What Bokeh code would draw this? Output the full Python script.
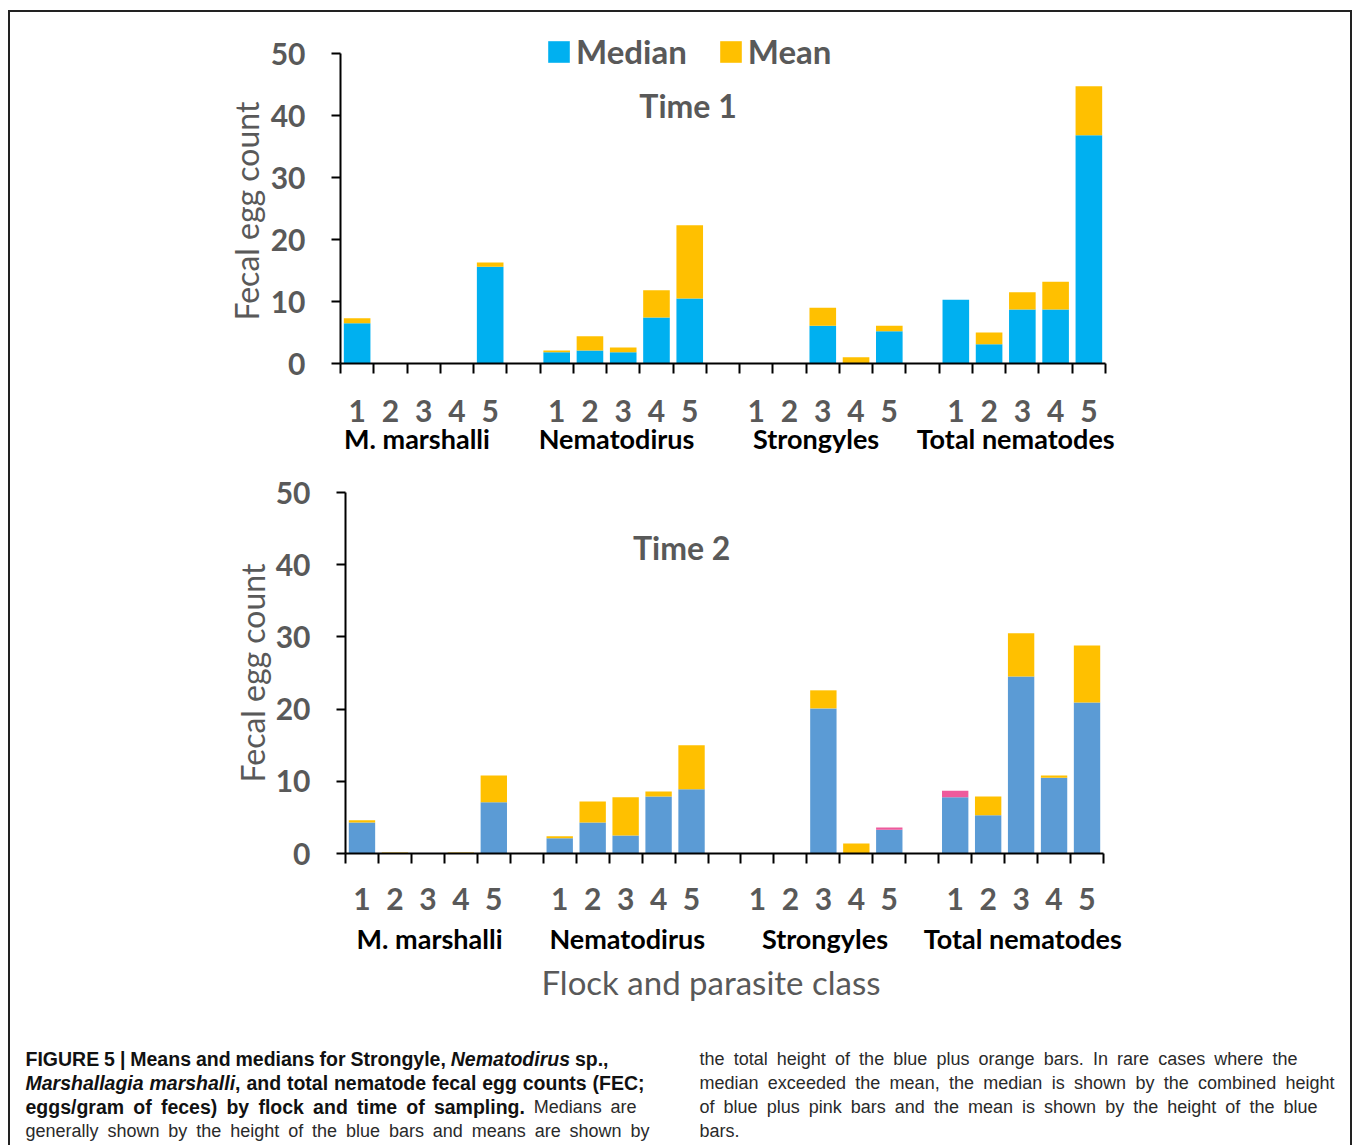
import numpy as np
from bokeh.plotting import figure
from bokeh.models import (Range1d, LinearAxis, FixedTicker, Legend, LegendItem,
                          Label, Title, ColumnDataSource)
from bokeh.layouts import column
from bokeh.embed import file_html
from bokeh.resources import INLINE
from bokeh.core.properties import value

# ---------------- data ----------------
groups = ["M. marshalli", "Nematodirus", "Strongyles", "Total nematodes"]
flocks = ["1", "2", "3", "4", "5"]
y_ticks = [0, 10, 20, 30, 40, 50]

# Time 1 (flocks 1-5 for each parasite class)
t1_median_mm = [6.5, 0.0, 0.0, 0.0, 15.6]
t1_mean_mm = [7.3, 0.0, 0.0, 0.0, 16.3]
t1_median_nem = [1.8, 2.1, 1.8, 7.4, 10.5]
t1_mean_nem = [2.1, 4.4, 2.6, 11.8, 22.3]
t1_median_str = [0.0, 0.0, 6.1, 0.0, 5.2]
t1_mean_str = [0.0, 0.0, 9.0, 1.0, 6.1]
t1_median_tot = [10.3, 3.1, 8.7, 8.7, 36.8]
t1_mean_tot = [10.3, 5.0, 11.5, 13.2, 44.7]

# Time 2
t2_median_mm = [4.3, 0.0, 0.0, 0.0, 7.1]
t2_mean_mm = [4.6, 0.15, 0.0, 0.15, 10.8]
t2_median_nem = [2.1, 4.3, 2.5, 7.9, 8.9]
t2_mean_nem = [2.4, 7.2, 7.8, 8.6, 15.0]
t2_median_str = [0.0, 0.0, 20.1, 0.0, 3.6]
t2_mean_str = [0.0, 0.0, 22.6, 1.4, 3.3]
t2_median_tot = [8.7, 5.3, 24.5, 10.5, 20.9]
t2_mean_tot = [7.8, 7.9, 30.5, 10.8, 28.8]

# caption: lines of (text, style) runs
caption_left = [
    [("FIGURE 5 | Means and medians for Strongyle, ", "bold"), ("Nematodirus", "bold italic"), (" sp.,", "bold")],
    [("Marshallagia marshalli", "bold italic"), (", and total nematode fecal egg counts (FEC;", "bold")],
    [("eggs/gram of feces) by flock and time of sampling.", "bold"), (" Medians are", "normal")],
    [("generally shown by the height of the blue bars and means are shown by", "normal")],
]
caption_right = [
    [("the total height of the blue plus orange bars. In rare cases where the", "normal")],
    [("median exceeded the mean, the median is shown by the combined height", "normal")],
    [("of blue plus pink bars and the mean is shown by the height of the blue", "normal")],
    [("bars.", "normal")],
]
# right end of each caption line inside the caption strip (None = natural width)
caption_left_end = [598, 634, 626, 639]
caption_right_end = [1287, 1324, 1307, None]

# ---------------- style ----------------
FONT = "Lato"
GRAY = "#595959"
BLUE1 = "#00B0F0"
BLUE2 = "#5B9BD5"
GOLD = "#FFC000"
PINK = "#EE5A9C"
BAR_W = 0.8

SLOTS = len(flocks) + 1
N_SLOTS = SLOTS * len(groups) - 1


def build(medians, means, blue, title, title_xy, geom, num_standoff, grp_standoff,
          grp_shift, ylab_standoff, legend=False, xlabel=None, ylabel_title=None):
    median = np.concatenate([np.asarray(m, float) for m in medians])
    mean = np.concatenate([np.asarray(m, float) for m in means])
    x = np.array([g * SLOTS + k + 0.5 for g in range(len(groups)) for k in range(len(flocks))])
    base = np.minimum(median, mean)
    src = ColumnDataSource(dict(x=x, base=base, mean=mean, median=median))
    W, H, L, R, T, B, y_top = geom
    p = figure(width=W, height=H, x_range=Range1d(0, N_SLOTS), y_range=Range1d(0, y_top),
               x_axis_type=None, y_axis_type=None, output_backend="svg",
               toolbar_location=None, min_border_left=L, min_border_right=R,
               min_border_top=T, min_border_bottom=B, frame_align=False)
    p.outline_line_color = None
    p.background_fill_color = None
    p.border_fill_color = None

    rb = p.vbar(x="x", bottom=0, top="base", width=BAR_W, fill_color=blue,
                line_color=None, source=src)
    rg = p.vbar(x="x", bottom="base", top="mean", width=BAR_W, fill_color=GOLD,
                line_color=None, source=src)
    p.vbar(x="x", bottom="base", top="median", width=BAR_W, fill_color=PINK,
           line_color=None, source=src)

    # y axis
    ya = LinearAxis(ticker=FixedTicker(ticks=y_ticks, minor_ticks=[]),
                    bounds=(min(y_ticks), max(y_ticks)))
    ya.axis_line_width = 2
    ya.axis_line_color = "black"
    ya.major_tick_line_width = 2
    ya.major_tick_line_color = "black"
    ya.major_tick_out = 9
    ya.major_tick_in = 0
    ya.minor_tick_line_color = None
    ya.major_label_text_font = FONT
    ya.major_label_text_font_size = "30px"
    ya.major_label_text_font_style = "bold"
    ya.major_label_text_color = GRAY
    ya.major_label_standoff = 26
    if ylabel_title is None:
        ya.axis_label = "Fecal egg count"
        ya.axis_label_text_font = FONT
        ya.axis_label_text_font_size = "32px"
        ya.axis_label_text_font_style = "normal"
        ya.axis_label_text_color = GRAY
        ya.axis_label_standoff = ylab_standoff
    p.add_layout(ya, "left")
    if ylabel_title is not None:
        p.add_layout(Title(text="Fecal egg count", align="left", offset=ylabel_title,
                           standoff=ylab_standoff, text_font=FONT, text_font_size="32px",
                           text_font_style="normal", text_color=GRAY), "left")

    # x axis with flock labels (ticks at slot boundaries as minor ticks)
    centers = list(x)
    xa = LinearAxis(ticker=FixedTicker(ticks=centers,
                                       minor_ticks=list(range(N_SLOTS + 1))))
    xa.major_label_overrides = {float(c): flocks[i % len(flocks)] for i, c in enumerate(centers)}
    xa.axis_line_width = 2
    xa.axis_line_color = "black"
    xa.major_tick_line_color = None
    xa.major_tick_out = 0
    xa.major_tick_in = 0
    xa.minor_tick_line_color = "black"
    xa.minor_tick_line_width = 2
    xa.minor_tick_out = 10
    xa.minor_tick_in = 0
    xa.major_label_text_font = FONT
    xa.major_label_text_font_size = "30px"
    xa.major_label_text_font_style = "bold"
    xa.major_label_text_color = GRAY
    xa.major_label_standoff = num_standoff
    p.add_layout(xa, "below")

    gcent = [g * SLOTS + len(flocks) / 2.0 + grp_shift for g in range(len(groups))]
    ga = LinearAxis(ticker=FixedTicker(ticks=gcent, minor_ticks=[]))
    ga.major_label_overrides = {float(c): groups[i] for i, c in enumerate(gcent)}
    ga.axis_line_color = None
    ga.major_tick_line_color = None
    ga.minor_tick_line_color = None
    ga.major_tick_out = 0
    ga.major_tick_in = 0
    ga.major_label_text_font = FONT
    ga.major_label_text_font_size = "27px"
    ga.major_label_text_font_style = "bold"
    ga.major_label_text_color = "black"
    ga.major_label_standoff = grp_standoff
    p.add_layout(ga, "below")

    if xlabel:
        t = Title(text=xlabel, align="left", offset=196, standoff=4,
                  text_font=FONT, text_font_size="33px", text_font_style="normal",
                  text_color=GRAY)
        p.add_layout(t, "below")

    p.add_layout(Label(x=title_xy[0], y=title_xy[1], text=title, text_font=FONT,
                       text_font_size="32px", text_font_style="bold",
                       text_color=GRAY, text_align="center", text_baseline="middle"))

    if legend:
        lg = Legend(items=[LegendItem(label="Median", renderers=[rb]),
                           LegendItem(label="Mean", renderers=[rg])],
                    orientation="horizontal", location=(205, 292))
        lg.label_text_font = FONT
        lg.label_text_font_size = "33px"
        lg.label_text_font_style = "bold"
        lg.label_text_color = GRAY
        lg.glyph_width = 27
        lg.glyph_height = 27
        lg.label_standoff = 4
        lg.spacing = 30
        lg.padding = 0
        lg.margin = 0
        lg.border_line_color = None
        lg.background_fill_alpha = 0
        p.add_layout(lg)
    return p


# page geometry (inside a 2px frame starting at x=8, y=10)
# top chart: frame 340..1105 x 25..363 (y=50 at page 53, 6.2 px per unit)
top = build([t1_median_mm, t1_median_nem, t1_median_str, t1_median_tot],
            [t1_mean_mm, t1_mean_nem, t1_mean_str, t1_mean_tot],
            BLUE1, "Time 1", (10.45, 41.6), (1340, 458, 330, 245, 13, 107, 50 * 338 / 310),
            num_standoff=26, grp_standoff=-3, grp_shift=-0.2, ylab_standoff=4,
            legend=True, ylabel_title=43)
bottom = build([t2_median_mm, t2_median_nem, t2_median_str, t2_median_tot],
               [t2_mean_mm, t2_mean_nem, t2_mean_str, t2_mean_tot],
               BLUE2, "Time 2", (10.2, 42.4), (1340, 540, 335, 247, 22, 157, 50),
               num_standoff=24, grp_standoff=9, grp_shift=0.05, ylab_standoff=1,
               xlabel="Flock and parasite class")

# ---------------- caption (word placement with Arial-compatible metrics) ----------------
_REG = dict(zip("abcdefghijklmnopqrstuvwxyz",
                [556, 556, 500, 556, 556, 278, 556, 556, 222, 222, 500, 222, 833,
                 556, 556, 556, 556, 333, 500, 278, 556, 500, 722, 500, 500, 500]))
_REG.update(dict(zip("ABCDEFGHIJKLMNOPQRSTUVWXYZ",
                     [667, 667, 722, 722, 667, 611, 778, 722, 278, 500, 667, 556, 833,
                      722, 778, 667, 778, 722, 667, 611, 722, 667, 944, 667, 667, 611])))
_REG.update({" ": 278, ",": 278, ".": 278, "(": 333, ")": 333, ";": 278, "/": 278,
             "|": 260, ":": 278})
_REG.update({d: 556 for d in "0123456789"})
_BOLD = dict(zip("abcdefghijklmnopqrstuvwxyz",
                 [556, 611, 556, 611, 556, 333, 611, 611, 278, 278, 556, 278, 889,
                  611, 611, 611, 611, 389, 556, 333, 611, 556, 778, 556, 556, 500]))
_BOLD.update(dict(zip("ABCDEFGHIJKLMNOPQRSTUVWXYZ",
                      [722, 722, 722, 722, 667, 611, 778, 722, 278, 556, 722, 611, 833,
                       722, 778, 667, 778, 722, 667, 611, 722, 667, 944, 667, 667, 611])))
_BOLD.update({" ": 278, ",": 278, ".": 278, "(": 333, ")": 333, ";": 333, "/": 278,
              "|": 280, ":": 333})
_BOLD.update({d: 556 for d in "0123456789"})
SIZE = {"bold": 19.5, "bold italic": 19.5, "normal": 18.0}


def tw(text, style):
    table = _REG if style == "normal" else _BOLD
    return sum(table.get(c, 556) for c in text) / 1000.0 * SIZE[style]


def tokenize(runs):
    words = [[]]
    for text, style in runs:
        for j, part in enumerate(text.split(" ")):
            if j > 0:
                words.append([])
            if part:
                words[-1].append((part, style))
    return [w for w in words if w]


pieces = {"bold": ([], [], []), "bold italic": ([], [], []), "normal": ([], [], [])}


def place(lines, x0, ends, baselines):
    for runs, end, yb in zip(lines, ends, baselines):
        words = tokenize(runs)
        wwidth = [sum(tw(t, s) for t, s in w) for w in words]
        natural_gap = [tw(" ", w[0][1]) for w in words[1:]]
        gaps = natural_gap
        if end is not None and len(words) > 1:
            extra = (end - x0 - sum(wwidth) - sum(natural_gap)) / (len(words) - 1)
            gaps = [g + extra for g in natural_gap]
        xc = x0
        for i, w in enumerate(words):
            for t, s in w:
                pieces[s][0].append(xc)
                pieces[s][1].append(yb)
                pieces[s][2].append(t)
                xc += tw(t, s)
            if i < len(gaps):
                xc += gaps[i]


cap = figure(width=1340, height=135, x_range=Range1d(0, 1340), y_range=Range1d(135, 0),
             x_axis_type=None, y_axis_type=None, output_backend="svg",
             toolbar_location=None, min_border=0, frame_align=False)
cap.outline_line_color = None
cap.grid.visible = False
line_base = [48, 72, 96, 120]
place(caption_left, 15, caption_left_end, line_base)
place(caption_right, 689, caption_right_end, line_base)
for style, (xs, ys, ts) in pieces.items():
    cap.text(x=xs, y=ys, text=ts, text_font=value("Liberation Sans"),
             text_font_size=f"{SIZE[style]}px", text_font_style=style,
             text_color="#111111" if style != "normal" else "#2a2a2a",
             text_baseline="alphabetic", text_align="left")

layout = column(top, bottom, cap, margin=(10, 0, 0, 8),
                styles={"border": "2px solid #222", "box-sizing": "content-box"})

html = file_html(layout, INLINE, title="Figure 5")
open("out.html", "w").write(html)
